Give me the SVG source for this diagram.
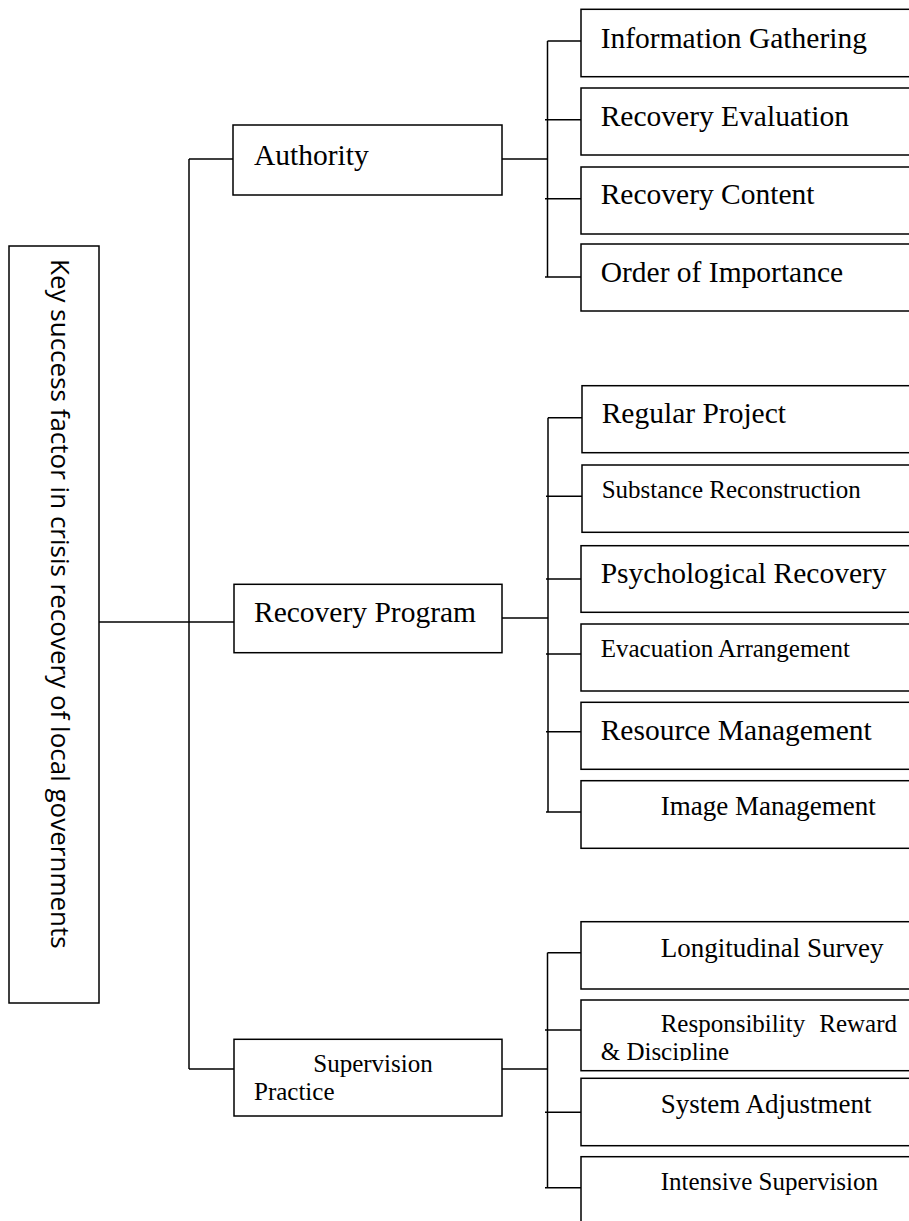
<svg xmlns="http://www.w3.org/2000/svg" width="909" height="1221" viewBox="0 0 909 1221">
<style>
.box{fill:#fff;stroke:#000;stroke-width:1.5}
.ln{fill:none;stroke:#000;stroke-width:1.5}
.t{font-family:"Liberation Serif","Times New Roman",serif;fill:#000}
.s30{font-size:29.5px}
.s27{font-size:27px}
.s25{font-size:25px}
.main{font-family:"Open Sans","DejaVu Sans",sans-serif;font-size:26px;fill:#000}
</style>
<defs>
<clipPath id="clipRRD"><rect x="581" y="1000" width="330" height="61"/></clipPath>
</defs>
<rect width="909" height="1221" fill="#fff"/>
<g id="connectors">
<path class="ln" d="M99 622H234"/>
<path class="ln" d="M189 159V1069"/>
<path class="ln" d="M189 159H233"/>
<path class="ln" d="M189 1069H234"/>
<path class="ln" d="M502 159H547.5"/>
<path class="ln" d="M547.5 41V277"/>
<path class="ln" d="M547.5 41H581M545 119.7H581M545 198.7H581M545 277H581"/>
<path class="ln" d="M502 618H548"/>
<path class="ln" d="M548 417.7V812"/>
<path class="ln" d="M548 417.7H582M546 496.3H582M546 579H581M546 654H581M546 731.7H581M546 812H581"/>
<path class="ln" d="M502 1069H547.5"/>
<path class="ln" d="M547.5 952.7V1187.7"/>
<path class="ln" d="M547.5 952.7H581M545 1030H581M545 1112.3H581M545 1187.7H581"/>
</g>
<g id="root">
<rect class="box" x="9" y="246" width="90" height="757"/>
<text class="main" transform="translate(51,259) rotate(90)">Key success factor in crisis recovery of local governments</text>
</g>
<g id="authority">
<rect class="box" x="233" y="125" width="269" height="70"/>
<text class="t s30" x="254" y="165">Authority</text>
</g>
<g id="recovery-program">
<rect class="box" x="234" y="584.3" width="268" height="68.4"/>
<text class="t s30" x="254" y="621.7">Recovery Program</text>
</g>
<g id="supervision-practice">
<rect class="box" x="234" y="1039.3" width="268" height="76.7"/>
<text class="t s25" x="313.3" y="1071.7">Supervision</text>
<text class="t s25" x="254" y="1100">Practice</text>
</g>
<g id="information-gathering">
<rect class="box" x="581" y="9.3" width="335" height="67.4"/>
<text class="t s30" x="600.7" y="48">Information Gathering</text>
</g>
<g id="recovery-evaluation">
<rect class="box" x="581" y="88" width="335" height="67"/>
<text class="t s30" x="600.7" y="126">Recovery Evaluation</text>
</g>
<g id="recovery-content">
<rect class="box" x="581" y="167" width="335" height="67"/>
<text class="t s30" x="600.7" y="204">Recovery Content</text>
</g>
<g id="order-of-importance">
<rect class="box" x="581" y="244" width="335" height="67"/>
<text class="t s30" x="600.7" y="282">Order of Importance</text>
</g>
<g id="regular-project">
<rect class="box" x="582" y="385.7" width="334" height="67"/>
<text class="t s30" x="601.7" y="423.3">Regular Project</text>
</g>
<g id="substance-reconstruction">
<rect class="box" x="582" y="465" width="334" height="67.3"/>
<text class="t s25" x="601.7" y="498.3">Substance Reconstruction</text>
</g>
<g id="psychological-recovery">
<rect class="box" x="581" y="545.7" width="335" height="66.6"/>
<text class="t s30" x="600.7" y="583.3">Psychological Recovery</text>
</g>
<g id="evacuation-arrangement">
<rect class="box" x="581" y="624" width="335" height="67"/>
<text class="t s25" x="600.7" y="656.7">Evacuation Arrangement</text>
</g>
<g id="resource-management">
<rect class="box" x="581" y="702.3" width="335" height="67"/>
<text class="t s30" x="600.7" y="740">Resource Management</text>
</g>
<g id="image-management">
<rect class="box" x="581" y="780.7" width="335" height="67.6"/>
<text class="t s27" x="660.7" y="815">Image Management</text>
</g>
<g id="longitudinal-survey">
<rect class="box" x="581" y="921.7" width="335" height="67.3"/>
<text class="t s27" x="660.7" y="956.7">Longitudinal Survey</text>
</g>
<g id="responsibility-reward-discipline">
<rect class="box" x="581" y="1000" width="335" height="70.7"/>
<g clip-path="url(#clipRRD)">
<text class="t s25" x="660.7" y="1032.3">Responsibility</text>
<text class="t s25" x="819.3" y="1032.3">Reward</text>
<text class="t s25" x="600.7" y="1060">&amp; Discipline</text>
</g>
</g>
<g id="system-adjustment">
<rect class="box" x="581" y="1078.3" width="335" height="67.4"/>
<text class="t s27" x="660.7" y="1113.3">System Adjustment</text>
</g>
<g id="intensive-supervision">
<rect class="box" x="581" y="1156.7" width="335" height="80"/>
<text class="t s25" x="660.7" y="1190">Intensive Supervision</text>
</g>
</svg>
